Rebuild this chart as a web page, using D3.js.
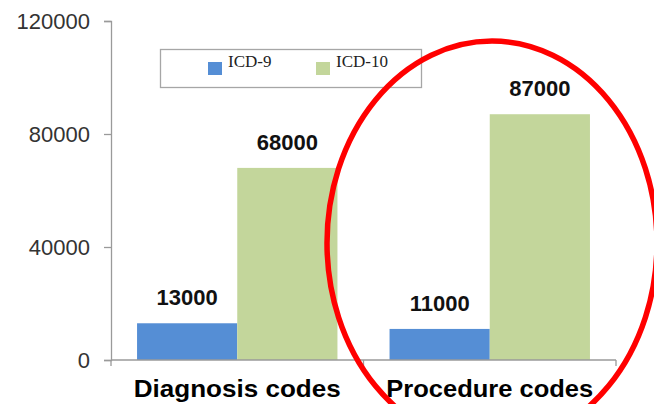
<!DOCTYPE html>
<html>
<head>
<meta charset="utf-8">
<script src="https://cdn.jsdelivr.net/npm/d3@7"></script>
<style>
  html, body { margin: 0; padding: 0; background: #fff; }
  svg { display: block; }
</style>
</head>
<body>
<div id="chart"></div>
<script>
const categories = ["Diagnosis codes", "Procedure codes"];
const series = ["ICD-9", "ICD-10"];
const icd9 = [13000, 11000];
const icd10 = [68000, 87000];
const yTicks = [0, 40000, 80000, 120000];
const colors = ["#558ed5", "#c3d69b"];

const width = 654, height = 404;
const svg = d3.select("#chart").append("svg")
  .attr("width", width)
  .attr("height", height);

const x0 = d3.scaleBand().domain(categories).range([111, 616]).padding(0);
const x1 = d3.scaleBand().domain(series).range([0, x0.bandwidth()])
  .paddingInner(0).paddingOuter(0.26);
const y = d3.scaleLinear().domain([0, 120000]).range([360, 21]);

// y axis
const yAxis = svg.append("g")
  .attr("transform", "translate(111,0)")
  .call(d3.axisLeft(y).tickValues(yTicks).tickSize(7).tickPadding(14).tickFormat(d3.format("d")));
yAxis.select(".domain").attr("stroke", "#9a9a9a").attr("stroke-width", 1.3);
yAxis.selectAll(".tick line").attr("stroke", "#9a9a9a").attr("stroke-width", 1.3);
yAxis.selectAll(".tick text")
  .attr("fill", "#333")
  .style("font-family", "'Liberation Sans', Arial, sans-serif")
  .style("font-size", "22px");

// bars
const data = categories.map((c, i) => ({cat: c, vals: [icd9[i], icd10[i]]}));
const groups = svg.append("g").selectAll("g").data(data).enter().append("g")
  .attr("transform", d => `translate(${x0(d.cat)},0)`);

groups.selectAll("rect")
  .data(d => d.vals.map((v, j) => ({s: series[j], v: v, j: j})))
  .enter().append("rect")
  .attr("x", d => x1(d.s))
  .attr("y", d => y(d.v))
  .attr("width", x1.bandwidth())
  .attr("height", d => y(0) - y(d.v))
  .attr("fill", d => colors[d.j]);

groups.selectAll("text.val")
  .data(d => d.vals.map((v, j) => ({s: series[j], v: v})))
  .enter().append("text")
  .attr("class", "val")
  .attr("x", d => x1(d.s) + x1.bandwidth() / 2)
  .attr("y", d => y(d.v) - 18)
  .attr("text-anchor", "middle")
  .style("font-family", "'Liberation Sans', Arial, sans-serif")
  .style("font-size", "22px")
  .style("font-weight", "bold")
  .attr("fill", "#111")
  .text(d => d.v);

// x axis
const xAxis = svg.append("g")
  .attr("transform", "translate(0,360)");
xAxis.append("line")
  .attr("x1", x0.range()[0]).attr("x2", x0.range()[1])
  .attr("stroke", "#9a9a9a").attr("stroke-width", 1.3);
const bounds = categories.map(c => x0(c)).concat([x0.range()[1]]);
xAxis.selectAll("line.tk").data(bounds).enter().append("line")
  .attr("class", "tk")
  .attr("x1", d => d).attr("x2", d => d)
  .attr("y1", 0).attr("y2", 6)
  .attr("stroke", "#9a9a9a").attr("stroke-width", 1.3);
xAxis.selectAll("text").data(categories).enter().append("text")
  .attr("x", d => x0(d) + x0.bandwidth() / 2)
  .attr("y", 37)
  .attr("text-anchor", "middle")
  .attr("textLength", 207)
  .attr("lengthAdjust", "spacingAndGlyphs")
  .style("font-family", "'Liberation Sans', Arial, sans-serif")
  .style("font-size", "24px")
  .style("font-weight", "bold")
  .attr("fill", "#000")
  .text(d => d);

// legend
const legend = svg.append("g");
legend.append("rect")
  .attr("x", 160.5).attr("y", 49.5).attr("width", 261).attr("height", 38)
  .attr("fill", "#fff").attr("stroke", "#a6a6a6").attr("stroke-width", 1.3);
const legX = [208, 316];
series.forEach((s, i) => {
  legend.append("rect")
    .attr("x", legX[i]).attr("y", 62).attr("width", 14).attr("height", 13)
    .attr("fill", colors[i]);
  legend.append("text")
    .attr("x", legX[i] + 20).attr("y", 67)
    .style("font-family", "'Liberation Serif', 'Times New Roman', serif")
    .style("font-size", "17px")
    .attr("fill", "#222")
    .text(s);
});

// highlight ellipse
svg.append("ellipse")
  .attr("cx", 492).attr("cy", 243)
  .attr("rx", 165).attr("ry", 202)
  .attr("fill", "none")
  .attr("stroke", "#ff0000")
  .attr("stroke-width", 5.5);
</script>
</body>
</html>
